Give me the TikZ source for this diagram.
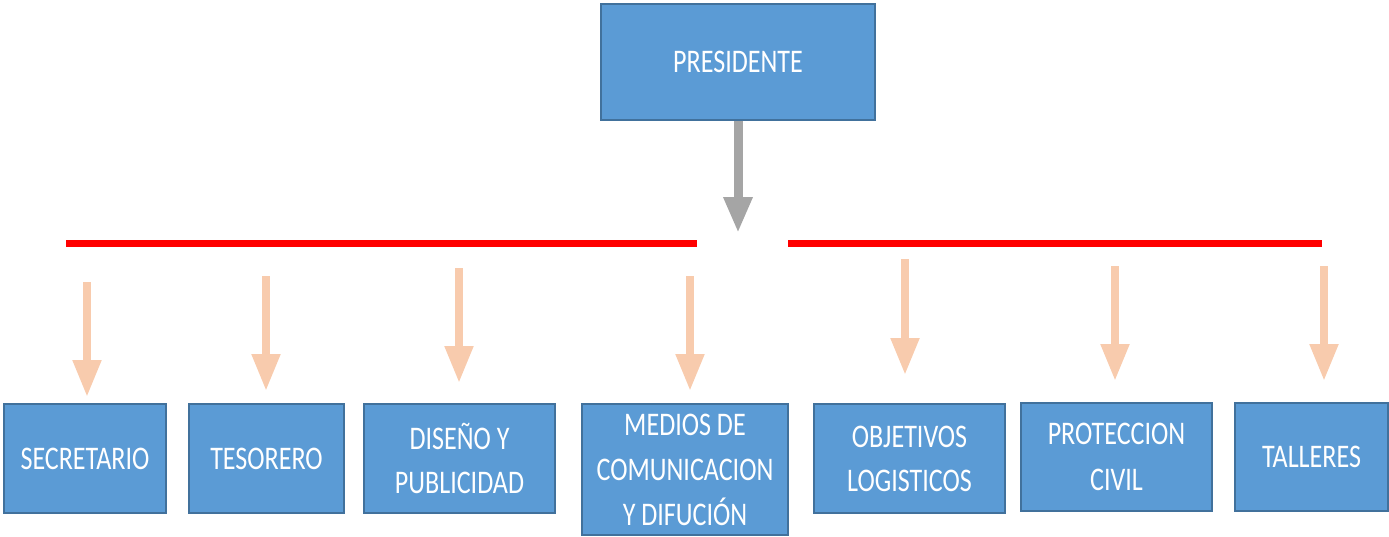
\documentclass[tikz,border=0pt]{standalone}
\usepackage{fontspec}
\setmainfont{Carlito}[FakeStretch=0.79]
\usetikzlibrary{arrows.meta}
\definecolor{boxfill}{HTML}{5B9BD5}
\definecolor{boxline}{HTML}{41719C}
\definecolor{peach}{HTML}{F8CBAD}
\definecolor{grayarrow}{HTML}{A5A5A5}
\definecolor{redline}{HTML}{FF0000}
\begin{document}
\begin{tikzpicture}[x=1pt,y=-1pt,
  orgbox/.style={draw=boxline, fill=boxfill, line width=1.2pt, text=white,
    align=center, inner sep=0pt, font=\fontsize{33}{44}\selectfont},
  peacharrow/.style={draw=peach, line width=8pt, -{Triangle[width=27pt,length=37pt]}},
  grayarr/.style={draw=grayarrow, line width=9pt, -{Triangle[width=27pt,length=36pt]}},
  redbar/.style={draw=redline, line width=7pt}]
\useasboundingbox (0,0) rectangle (1389,536);

\node[orgbox, minimum width=274pt, minimum height=116pt] (pres) at (738,62) {PRESIDENTE};

\node[orgbox, minimum width=162pt, minimum height=109pt] (sec) at (85,458.5) {SECRETARIO};
\node[orgbox, minimum width=155pt, minimum height=109pt] (tes) at (266.5,458.5) {TESORERO};
\node[orgbox, minimum width=191pt, minimum height=109pt] (dis) at (459.5,458.5) {DISEÑO Y\\PUBLICIDAD};
\node[orgbox, minimum width=206pt, minimum height=131pt, font=\fontsize{33}{45}\selectfont] (med) at (685,469.5) {MEDIOS DE\\COMUNICACION\\Y DIFUCIÓN};
\node[orgbox, minimum width=191pt, minimum height=109pt] (obj) at (909.5,458.5) {OBJETIVOS\\LOGISTICOS};
\node[orgbox, minimum width=191pt, minimum height=108pt, font=\fontsize{33}{46}\selectfont] (pro) at (1116.5,457) {PROTECCION\\CIVIL};
\node[orgbox, minimum width=153pt, minimum height=108pt] (tal) at (1311.5,457) {TALLERES};

% gray arrow
\coordinate (gtip) at (738,233);
\draw[grayarr] (pres.south) -- (gtip);

% red bars
\coordinate (rl1) at (66,243);
\coordinate (rl2) at (697,243);
\coordinate (rr1) at (788,243);
\coordinate (rr2) at (1322,243);
\draw[redbar] (rl1) -- (rl2);
\draw[redbar] (rr1) -- (rr2);

% peach arrows
\coordinate (a1s) at (87,282);   \coordinate (a1e) at (87,397);
\coordinate (a2s) at (266,276);  \coordinate (a2e) at (266,391);
\coordinate (a3s) at (459,268);  \coordinate (a3e) at (459,383);
\coordinate (a4s) at (690,276);  \coordinate (a4e) at (690,391);
\coordinate (a5s) at (905,259);  \coordinate (a5e) at (905,375);
\coordinate (a6s) at (1115,266); \coordinate (a6e) at (1115,381);
\coordinate (a7s) at (1324,266); \coordinate (a7e) at (1324,381);
\foreach \i in {1,...,7} {
  \draw[peacharrow] (a\i s) -- (a\i e);
}
\end{tikzpicture}
\end{document}
